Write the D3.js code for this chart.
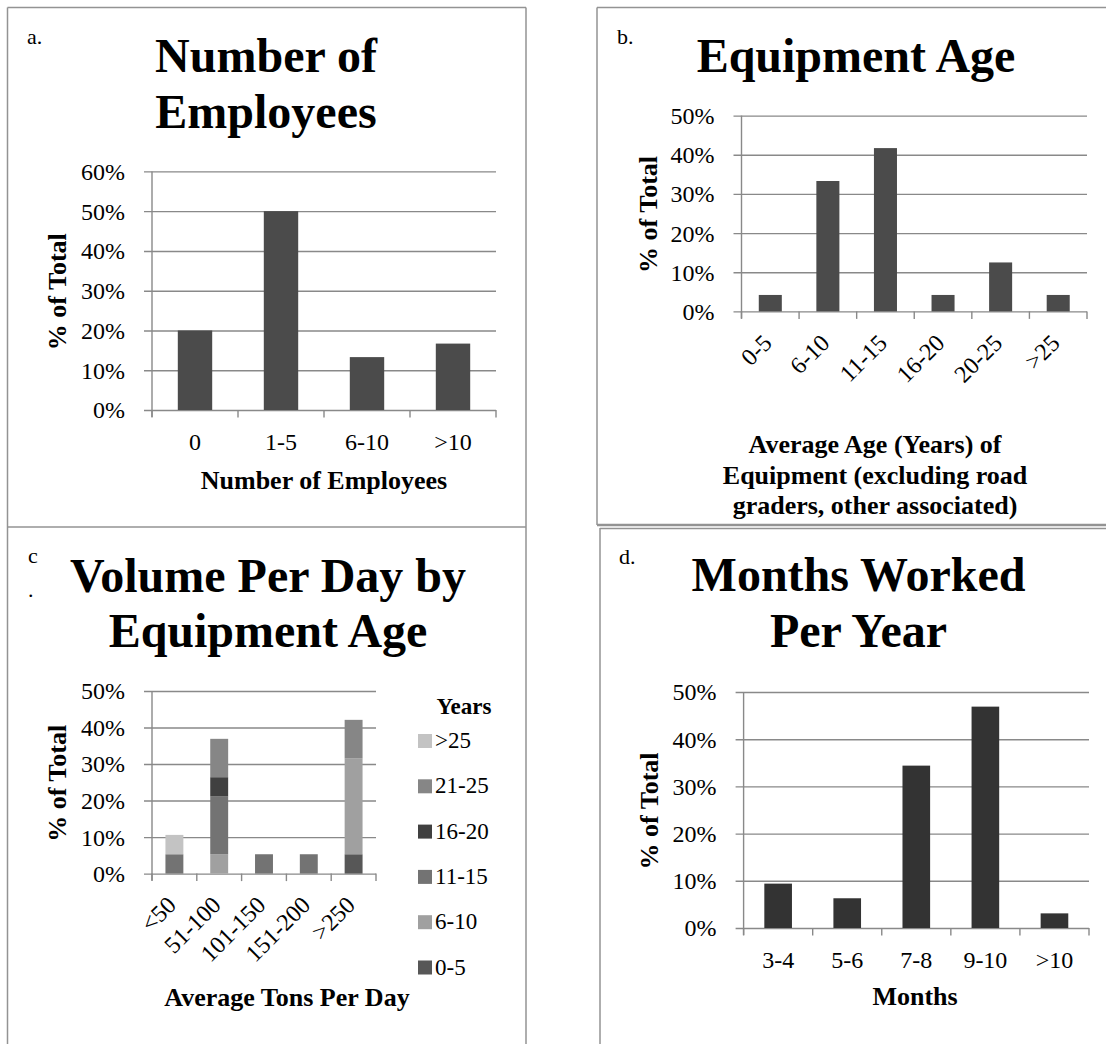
<!DOCTYPE html>
<html>
<head>
<meta charset="utf-8">
<script src="https://cdn.jsdelivr.net/npm/d3@7"></script>
<style>
  html, body { margin: 0; padding: 0; background: #fff; }
  svg { display: block; font-family: "Liberation Serif", "Times New Roman", serif; }
</style>
</head>
<body>
<svg id="chart" width="1106" height="1044"></svg>
<script>
// ---------- data ----------
const employeeCats = ["0", "1-5", "6-10", ">10"];
const employeeVals = [0.20, 0.50, 0.133, 0.167];

const ageCats = ["0-5", "6-10", "11-15", "16-20", "20-25", ">25"];
const ageVals = [0.042, 0.333, 0.417, 0.042, 0.125, 0.042];

const volumeCats = ["<50", "51-100", "101-150", "151-200", ">250"];
const yearSeries = ["0-5", "6-10", "11-15", "16-20", "21-25", ">25"];   // stack order, bottom to top
const vol0to5   = [0,     0,     0,     0,     0.053];
const vol6to10  = [0,     0.053, 0,     0,     0.263];
const vol11to15 = [0.053, 0.158, 0.053, 0.053, 0];
const vol16to20 = [0,     0.053, 0,     0,     0];
const vol21to25 = [0,     0.105, 0,     0,     0.105];
const volOver25 = [0.053, 0,     0,     0,     0];
const yearColors = ["#575757", "#a0a0a0", "#737373", "#404040", "#868686", "#c3c3c3"];

const monthCats = ["3-4", "5-6", "7-8", "9-10", ">10"];
const monthVals = [0.094, 0.063, 0.344, 0.469, 0.031];

const ticks60 = [0, 0.1, 0.2, 0.3, 0.4, 0.5, 0.6];
const ticks50 = [0, 0.1, 0.2, 0.3, 0.4, 0.5];

// ---------- drawing ----------
const svg = d3.select("#chart");
const FONT = '"Liberation Serif", "Times New Roman", serif';
const GRID = "#898989";
const BORDER = "#939393";
const pct = d3.format(".0%");

function line(x1, y1, x2, y2, w, c) {
  svg.append("line").attr("x1", x1).attr("y1", y1).attr("x2", x2).attr("y2", y2)
    .attr("stroke", c || BORDER).attr("stroke-width", w || 1.5);
}

// panel borders
line(7.5, 7.5, 526, 7.5);
line(7.5, 7.5, 7.5, 1044);
line(526, 7.5, 526, 1044);
line(7.5, 527, 526, 527);
line(597, 7.5, 1106, 7.5);
line(597, 7.5, 597, 525);
line(597, 525, 1106, 525, 2.5);
line(600, 528, 600, 1044);
line(600, 528.5, 1106, 528.5);

function text(x, y, str, size, bold, anchor) {
  return svg.append("text").attr("x", x).attr("y", y)
    .style("font-family", FONT)
    .attr("font-size", size).attr("font-weight", bold ? "bold" : "normal")
    .attr("text-anchor", anchor || "middle").attr("fill", "#000").text(str);
}

function panel(cfg) {
  const { x0, x1, yTop, y0, cats, ticks, max } = cfg;
  const w = x1 - x0;
  const x = d3.scaleBand().domain(cats).range([x0, x1]).paddingInner(0.6).paddingOuter(0.3);
  const y = d3.scaleLinear().domain([0, max]).range([y0, yTop]);

  // gridlines + y tick labels through a left axis anchored on the right edge
  const ya = svg.append("g").attr("transform", `translate(${x1},0)`)
    .call(d3.axisLeft(y).tickValues(ticks).tickFormat(pct).tickSize(w + 8).tickPadding(19));
  ya.select(".domain").remove();
  ya.selectAll(".tick line").attr("stroke", GRID).attr("stroke-width", 1.4);
  ya.selectAll(".tick text").style("font-family", FONT).attr("font-size", 24).attr("fill", "#000")
    .attr("dy", "0.33em");

  // bars
  if (cfg.stacked) {
    const rows = cats.map((c, i) => {
      const r = { cat: c };
      cfg.series.forEach((s, k) => r[s] = cfg.seriesVals[k][i]);
      return r;
    });
    const stack = d3.stack().keys(cfg.series)(rows);
    const color = d3.scaleOrdinal().domain(cfg.series).range(cfg.colors);
    svg.append("g").selectAll("g").data(stack).join("g").attr("fill", d => color(d.key))
      .selectAll("rect").data(d => d).join("rect")
      .attr("x", d => x(d.data.cat)).attr("width", x.bandwidth())
      .attr("y", d => y(d[1])).attr("height", d => y(d[0]) - y(d[1]));
  } else {
    svg.append("g").selectAll("rect").data(cats).join("rect")
      .attr("x", d => x(d)).attr("width", x.bandwidth())
      .attr("y", (d, i) => y(cfg.vals[i])).attr("height", (d, i) => y0 - y(cfg.vals[i]))
      .attr("fill", cfg.barColor);
  }

  // y axis line
  line(x0, yTop, x0, y0 + 7, 1.4, GRID);
  // category boundary ticks
  const step = x.step();
  d3.range(cats.length + 1).forEach(i => line(x0 + i * step, y0, x0 + i * step, y0 + 7.5, 1.4, GRID));

  // x tick labels via bottom axis
  const xa = svg.append("g").attr("transform", `translate(0,${y0})`)
    .call(d3.axisBottom(x).tickSize(0).tickPadding(23));
  xa.select(".domain").remove();
  xa.selectAll(".tick text").style("font-family", FONT).attr("font-size", 24).attr("fill", "#000");
  if (cfg.rotate) {
    xa.selectAll(".tick text")
      .attr("text-anchor", "end").attr("dy", null).attr("y", 0).attr("x", 0)
      .attr("transform", `translate(3, ${cfg.rotOffset}) rotate(-45)`);
  }

  // titles
  cfg.title.forEach((t, i) => text(cfg.titleX, cfg.titleY[i], t, 48, true));
  cfg.xTitle.forEach((t, i) => text(cfg.xTitleX, cfg.xTitleY[i], t, 26, true));
  svg.append("text").attr("transform", `translate(${cfg.yLabelX},${(yTop + y0) / 2 + 1}) rotate(-90)`)
    .style("font-family", FONT)
    .attr("text-anchor", "middle").attr("dy", "0.35em").attr("font-size", 26).attr("font-weight", "bold")
    .text("% of Total");
}

panel({
  x0: 152, x1: 496, yTop: 171.4, y0: 410, cats: employeeCats, vals: employeeVals,
  ticks: ticks60, max: 0.6, barColor: "#4b4b4b",
  title: ["Number of", "Employees"], titleX: 266, titleY: [72, 128],
  xTitle: ["Number of Employees"], xTitleX: 324, xTitleY: [488.5], yLabelX: 57
});

panel({
  x0: 741.5, x1: 1087, yTop: 115.6, y0: 311.4, cats: ageCats, vals: ageVals,
  ticks: ticks50, max: 0.5, barColor: "#4b4b4b", rotate: true, rotOffset: 33,
  title: ["Equipment Age"], titleX: 856, titleY: [71.7],
  xTitle: ["Average Age (Years) of", "Equipment (excluding road", "graders, other associated)"],
  xTitleX: 875, xTitleY: [453, 484, 514], yLabelX: 647.5
});

panel({
  x0: 152, x1: 376, yTop: 691, y0: 873.6, cats: volumeCats, stacked: true,
  series: yearSeries, seriesVals: [vol0to5, vol6to10, vol11to15, vol16to20, vol21to25, volOver25],
  colors: yearColors, ticks: ticks50, max: 0.5, rotate: true, rotOffset: 33,
  title: ["Volume Per Day by", "Equipment Age"], titleX: 268, titleY: [592, 647],
  xTitle: ["Average Tons Per Day"], xTitleX: 287, xTitleY: [1006], yLabelX: 57
});

panel({
  x0: 743.6, x1: 1089, yTop: 692, y0: 928, cats: monthCats, vals: monthVals,
  ticks: ticks50, max: 0.5, barColor: "#333333",
  title: ["Months Worked", "Per Year"], titleX: 858.5, titleY: [591, 647],
  xTitle: ["Months"], xTitleX: 915, xTitleY: [1004.6], yLabelX: 649
});

// legend for panel c (top entry = last series)
text(464, 714, "Years", 23, true);
const legendItems = yearSeries.slice().reverse();
const legendCols = yearColors.slice().reverse();
const lg = svg.append("g").selectAll("g").data(legendItems).join("g")
  .attr("transform", (d, i) => `translate(418,${748 + i * 45.3})`);
lg.append("rect").attr("x", 0).attr("y", -14).attr("width", 14).attr("height", 14)
  .attr("fill", (d, i) => legendCols[i]);
lg.append("text").attr("x", 17).attr("y", 0).style("font-family", FONT).attr("font-size", 23).text(d => d);

// panel letters
text(27, 44, "a.", 22, false, "start");
text(617, 44, "b.", 22, false, "start");
text(28, 563, "c", 22, false, "start");
text(28, 597, ".", 22, false, "start");
text(619, 563.5, "d.", 22, false, "start");
</script>
</body>
</html>
